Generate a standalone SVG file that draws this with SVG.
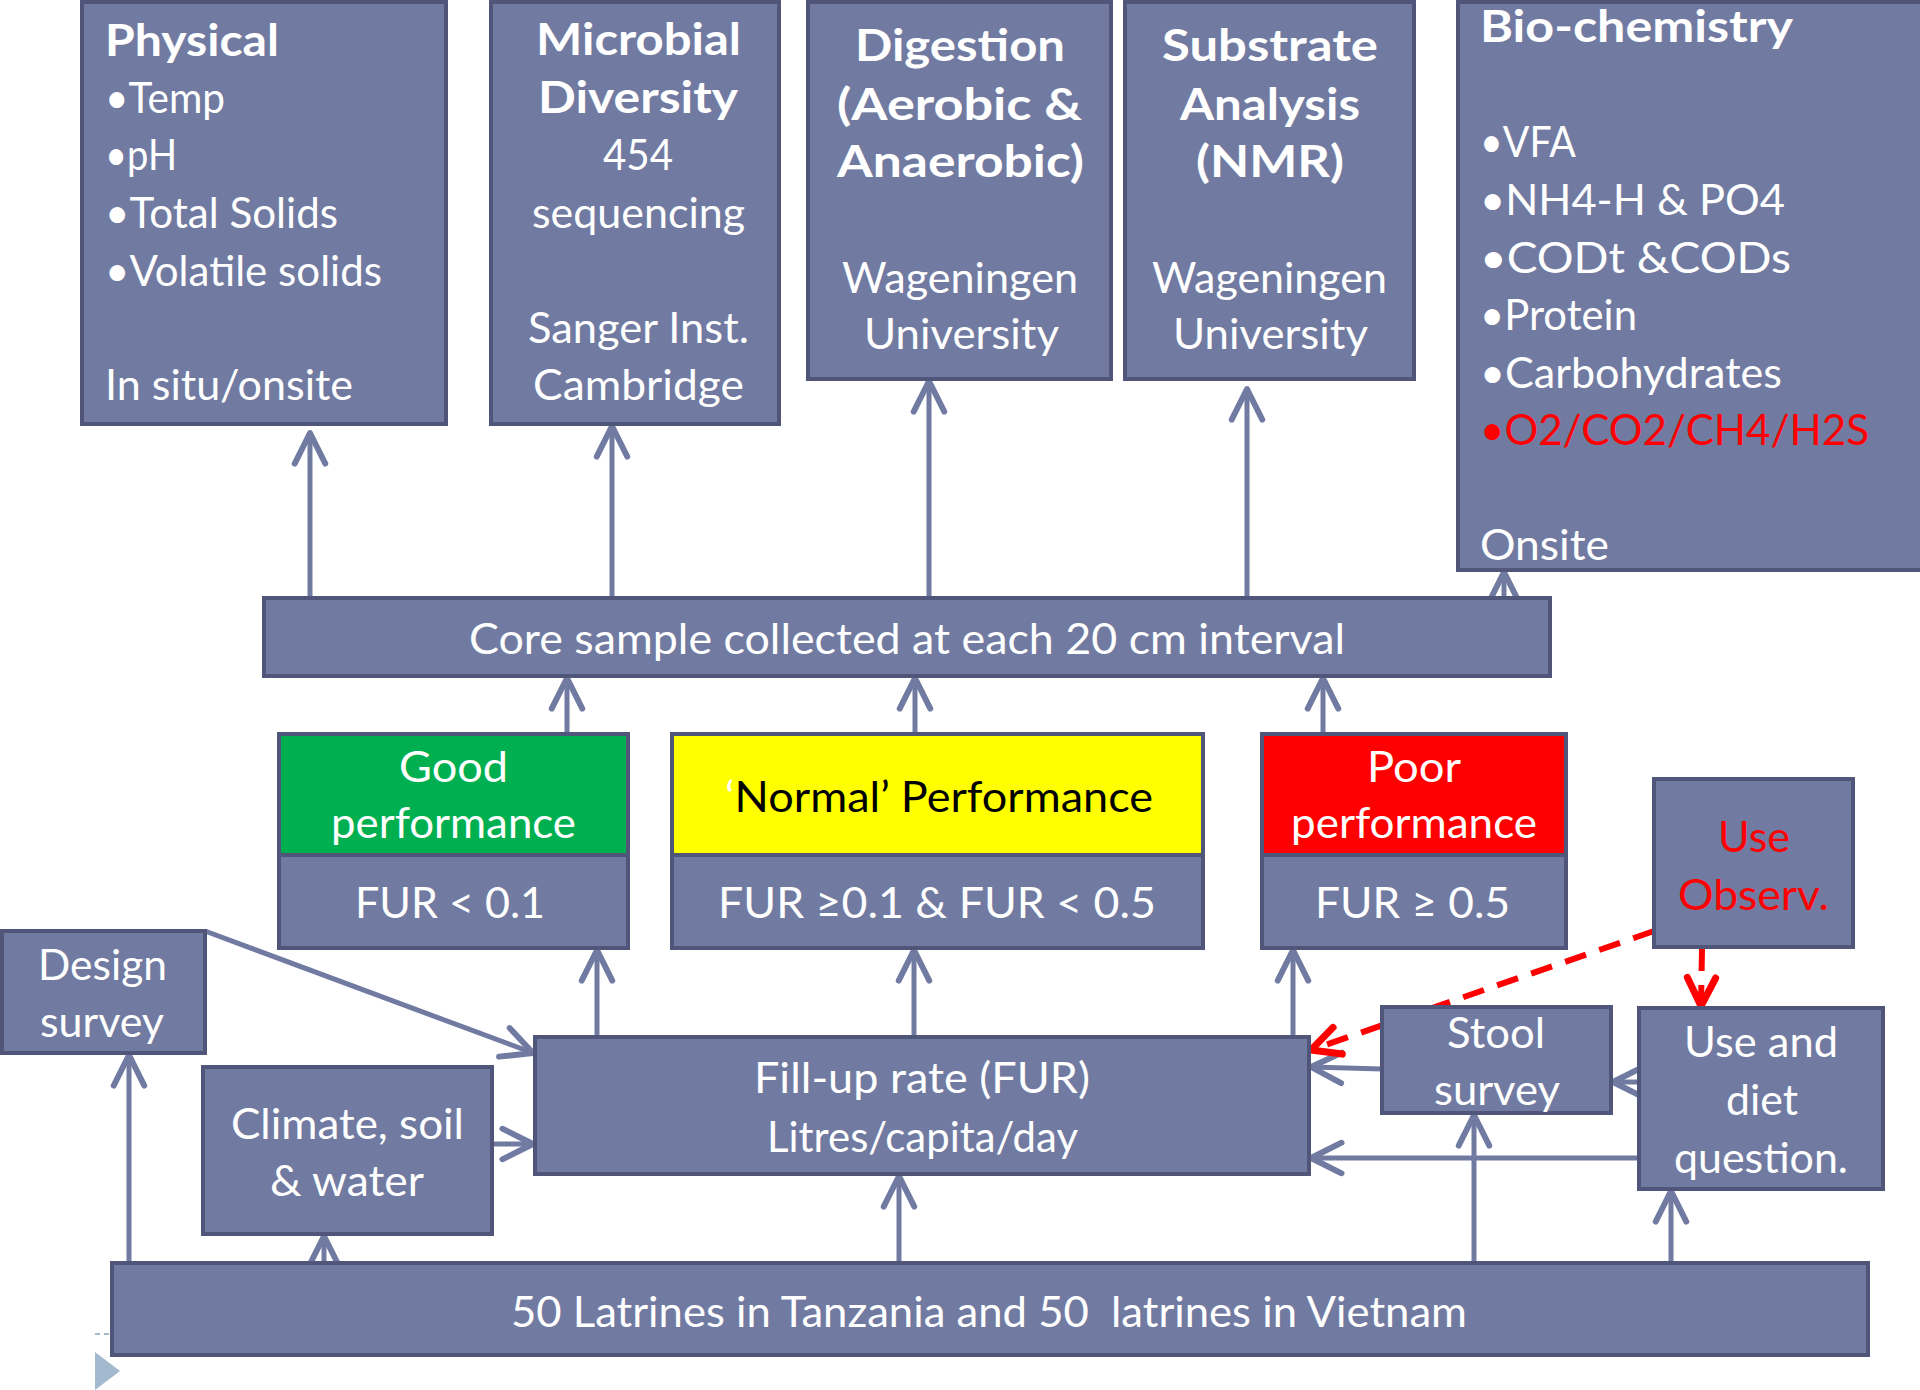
<svg xmlns="http://www.w3.org/2000/svg" width="1920" height="1390" viewBox="0 0 1920 1390">
<defs>
<style>
.box{fill:#717ba2;stroke:#4f567a;stroke-width:4}
.t{font-family:Lato,"Open Sans",sans-serif;font-size:43px;fill:#fff}
.b{font-weight:bold}
.blk{fill:#000}
.red{fill:#ff0000}
.c{fill:none;stroke:#717ba2;stroke-width:5}
.d{fill:none;stroke:#ff0000;stroke-width:6;stroke-dasharray:22 14}
</style>
<marker id="ah" markerUnits="userSpaceOnUse" markerWidth="40" markerHeight="40" viewBox="-30 -16 34 32" refX="0" refY="0" orient="auto">
<path d="M-26,-13 L0,0 L-26,13" fill="none" stroke="#717ba2" stroke-width="5" stroke-linecap="round" stroke-linejoin="round"/>
</marker>
<marker id="ahr" markerUnits="userSpaceOnUse" markerWidth="40" markerHeight="40" viewBox="-30 -16 34 32" refX="0" refY="0" orient="auto">
<path d="M-24,-12 L0,0 L-24,12" fill="none" stroke="#ff0000" stroke-width="6" stroke-linecap="round" stroke-linejoin="round"/>
</marker>
</defs>
<rect width="1920" height="1390" fill="#fff"/>

<g id="connectors">
<line class="c" x1="310" y1="598" x2="310" y2="433" marker-end="url(#ah)"/>
<line class="c" x1="612" y1="598" x2="612" y2="426" marker-end="url(#ah)"/>
<line class="c" x1="929" y1="598" x2="929" y2="381" marker-end="url(#ah)"/>
<line class="c" x1="1247" y1="598" x2="1247" y2="389" marker-end="url(#ah)"/>
<line class="c" x1="1504" y1="598" x2="1504" y2="572" marker-end="url(#ah)"/>
<line class="c" x1="567" y1="734" x2="567" y2="678" marker-end="url(#ah)"/>
<line class="c" x1="915" y1="734" x2="915" y2="678" marker-end="url(#ah)"/>
<line class="c" x1="1323" y1="734" x2="1323" y2="678" marker-end="url(#ah)"/>
<line class="c" x1="597" y1="1037" x2="597" y2="950" marker-end="url(#ah)"/>
<line class="c" x1="914" y1="1037" x2="914" y2="950" marker-end="url(#ah)"/>
<line class="c" x1="1293" y1="1037" x2="1293" y2="950" marker-end="url(#ah)"/>
<line class="c" x1="899" y1="1263" x2="899" y2="1176" marker-end="url(#ah)"/>
<line class="c" x1="129" y1="1263" x2="129" y2="1055" marker-end="url(#ah)"/>
<line class="c" x1="324" y1="1263" x2="324" y2="1236" marker-end="url(#ah)"/>
<line class="c" x1="492" y1="1144" x2="533" y2="1144" marker-end="url(#ah)"/>
<line class="c" x1="205" y1="931" x2="533" y2="1053" marker-end="url(#ah)"/>
<line class="c" x1="1382" y1="1069" x2="1311" y2="1067" marker-end="url(#ah)"/>
<line class="c" x1="1639" y1="1158" x2="1311" y2="1158" marker-end="url(#ah)"/>
<line class="c" x1="1639" y1="1082" x2="1613" y2="1082" marker-end="url(#ah)"/>
<line class="c" x1="1474" y1="1263" x2="1474" y2="1115" marker-end="url(#ah)"/>
<line class="c" x1="1671" y1="1263" x2="1671" y2="1191" marker-end="url(#ah)"/>
<line class="d" x1="1654" y1="931" x2="1311" y2="1050" marker-end="url(#ahr)"/>
<line class="d" x1="1702" y1="949" x2="1701" y2="1006" marker-end="url(#ahr)"/>
</g>

<g id="physical">
<rect class="box" x="82" y="2" width="364" height="422"/>
<text class="t b" x="105" y="56" textLength="174" lengthAdjust="spacingAndGlyphs">Physical</text>
<text class="t" x="105" y="113" textLength="120" lengthAdjust="spacingAndGlyphs">•Temp</text>
<text class="t" x="105" y="170" textLength="72" lengthAdjust="spacingAndGlyphs">•pH</text>
<text class="t" x="105" y="228" textLength="233" lengthAdjust="spacingAndGlyphs">•Total Solids</text>
<text class="t" x="105" y="286" textLength="277" lengthAdjust="spacingAndGlyphs">•Volatile solids</text>
<text class="t" x="105" y="400" textLength="248" lengthAdjust="spacingAndGlyphs">In situ/onsite</text>
</g>

<g id="microbial">
<rect class="box" x="491" y="2" width="288" height="422"/>
<text class="t b" x="536" y="55" textLength="205" lengthAdjust="spacingAndGlyphs">Microbial</text>
<text class="t b" x="538" y="113" textLength="200" lengthAdjust="spacingAndGlyphs">Diversity</text>
<text class="t" x="603" y="170" textLength="70" lengthAdjust="spacingAndGlyphs">454</text>
<text class="t" x="532" y="228" textLength="213" lengthAdjust="spacingAndGlyphs">sequencing</text>
<text class="t" x="528" y="343" textLength="221" lengthAdjust="spacingAndGlyphs">Sanger Inst.</text>
<text class="t" x="533" y="400" textLength="211" lengthAdjust="spacingAndGlyphs">Cambridge</text>
</g>

<g id="digestion">
<rect class="box" x="808" y="2" width="303" height="377"/>
<text class="t b" x="855" y="61" textLength="210" lengthAdjust="spacingAndGlyphs">Digestion</text>
<text class="t b" x="837" y="120" textLength="245" lengthAdjust="spacingAndGlyphs">(Aerobic &amp;</text>
<text class="t b" x="837" y="177" textLength="247" lengthAdjust="spacingAndGlyphs">Anaerobic)</text>
<text class="t" x="842" y="293" textLength="236" lengthAdjust="spacingAndGlyphs">Wageningen</text>
<text class="t" x="864" y="349" textLength="195" lengthAdjust="spacingAndGlyphs">University</text>
</g>

<g id="substrate">
<rect class="box" x="1125" y="2" width="289" height="377"/>
<text class="t b" x="1162" y="61" textLength="216" lengthAdjust="spacingAndGlyphs">Substrate</text>
<text class="t b" x="1180" y="120" textLength="180" lengthAdjust="spacingAndGlyphs">Analysis</text>
<text class="t b" x="1196" y="177" textLength="148" lengthAdjust="spacingAndGlyphs">(NMR)</text>
<text class="t" x="1152" y="293" textLength="235" lengthAdjust="spacingAndGlyphs">Wageningen</text>
<text class="t" x="1173" y="349" textLength="195" lengthAdjust="spacingAndGlyphs">University</text>
</g>

<g id="biochemistry">
<rect class="box" x="1458" y="2" width="470" height="568"/>
<text class="t b" x="1480" y="42" textLength="313" lengthAdjust="spacingAndGlyphs">Bio-chemistry</text>
<text class="t" x="1480" y="157" textLength="96" lengthAdjust="spacingAndGlyphs">•VFA</text>
<text class="t" x="1480" y="215" textLength="305" lengthAdjust="spacingAndGlyphs">•NH4-H &amp; PO4</text>
<text class="t" x="1480" y="273" textLength="311" lengthAdjust="spacingAndGlyphs">•CODt &amp;CODs</text>
<text class="t" x="1480" y="330" textLength="157" lengthAdjust="spacingAndGlyphs">•Protein</text>
<text class="t" x="1480" y="388" textLength="302" lengthAdjust="spacingAndGlyphs">•Carbohydrates</text>
<text class="t red" x="1480" y="445" textLength="389" lengthAdjust="spacingAndGlyphs">•O2/CO2/CH4/H2S</text>
<text class="t" x="1480" y="560" textLength="129" lengthAdjust="spacingAndGlyphs">Onsite</text>
</g>

<g id="core">
<rect class="box" x="264" y="598" width="1286" height="78"/>
<text class="t" x="469" y="654" textLength="876" lengthAdjust="spacingAndGlyphs">Core sample collected at each 20 cm interval</text>
</g>

<g id="good">
<rect class="box" x="279" y="734" width="349" height="214"/>
<rect x="281" y="736" width="345" height="119" fill="#00b050"/>
<line x1="279" y1="855" x2="628" y2="855" stroke="#4f567a" stroke-width="4"/>
<text class="t" x="399" y="782" textLength="109" lengthAdjust="spacingAndGlyphs">Good</text>
<text class="t" x="331" y="838" textLength="245" lengthAdjust="spacingAndGlyphs">performance</text>
<text class="t" x="355" y="918" textLength="190" lengthAdjust="spacingAndGlyphs">FUR &lt; 0.1</text>
</g>

<g id="normal">
<rect class="box" x="672" y="734" width="531" height="214"/>
<rect x="674" y="736" width="527" height="119" fill="#ffff00"/>
<line x1="672" y1="855" x2="1203" y2="855" stroke="#4f567a" stroke-width="4"/>
<text class="t blk" x="725" y="812" textLength="428" lengthAdjust="spacingAndGlyphs"><tspan fill="#fff">‘</tspan>Normal’ Performance</text>
<text class="t" x="718" y="918" textLength="438" lengthAdjust="spacingAndGlyphs">FUR ≥0.1 &amp; FUR &lt; 0.5</text>
</g>

<g id="poor">
<rect class="box" x="1262" y="734" width="304" height="214"/>
<rect x="1264" y="736" width="300" height="119" fill="#ff0000"/>
<line x1="1262" y1="855" x2="1566" y2="855" stroke="#4f567a" stroke-width="4"/>
<text class="t" x="1367" y="782" textLength="94" lengthAdjust="spacingAndGlyphs">Poor</text>
<text class="t" x="1291" y="838" textLength="246" lengthAdjust="spacingAndGlyphs">performance</text>
<text class="t" x="1315" y="918" textLength="195" lengthAdjust="spacingAndGlyphs">FUR ≥ 0.5</text>
</g>

<g id="use-observ">
<rect class="box" x="1654" y="779" width="199" height="168"/>
<text class="t red" x="1718" y="852" textLength="72" lengthAdjust="spacingAndGlyphs">Use</text>
<text class="t red" x="1678" y="910" textLength="151" lengthAdjust="spacingAndGlyphs">Observ.</text>
</g>

<g id="design-survey">
<rect class="box" x="2" y="931" width="203" height="122"/>
<text class="t" x="38" y="980" textLength="129" lengthAdjust="spacingAndGlyphs">Design</text>
<text class="t" x="40" y="1037" textLength="124" lengthAdjust="spacingAndGlyphs">survey</text>
</g>

<g id="climate">
<rect class="box" x="203" y="1067" width="289" height="167"/>
<text class="t" x="231" y="1139" textLength="233" lengthAdjust="spacingAndGlyphs">Climate, soil</text>
<text class="t" x="270" y="1196" textLength="154" lengthAdjust="spacingAndGlyphs">&amp; water</text>
</g>

<g id="fur">
<rect class="box" x="535" y="1037" width="774" height="137"/>
<text class="t" x="754" y="1093" textLength="336" lengthAdjust="spacingAndGlyphs">Fill-up rate (FUR)</text>
<text class="t" x="767" y="1152" textLength="311" lengthAdjust="spacingAndGlyphs">Litres/capita/day</text>
</g>

<g id="stool-survey">
<rect class="box" x="1382" y="1007" width="229" height="106"/>
<text class="t" x="1447" y="1048" textLength="98" lengthAdjust="spacingAndGlyphs">Stool</text>
<text class="t" x="1434" y="1105" textLength="126" lengthAdjust="spacingAndGlyphs">survey</text>
</g>

<g id="use-diet">
<rect class="box" x="1639" y="1008" width="244" height="181"/>
<text class="t" x="1684" y="1057" textLength="154" lengthAdjust="spacingAndGlyphs">Use and</text>
<text class="t" x="1726" y="1115" textLength="72" lengthAdjust="spacingAndGlyphs">diet</text>
<text class="t" x="1674" y="1173" textLength="174" lengthAdjust="spacingAndGlyphs">question.</text>
</g>

<g id="latrines">
<rect class="box" x="112" y="1263" width="1756" height="92"/>
<text class="t" x="511" y="1327" textLength="956" lengthAdjust="spacingAndGlyphs" xml:space="preserve">50 Latrines in Tanzania and 50  latrines in Vietnam</text>
</g>

<line x1="95" y1="1334" x2="112" y2="1334" stroke="#a3b9cd" stroke-width="2" stroke-dasharray="5 4"/>
<polygon points="95,1352 120,1371 95,1390" fill="#a3b9cd"/>
</svg>
